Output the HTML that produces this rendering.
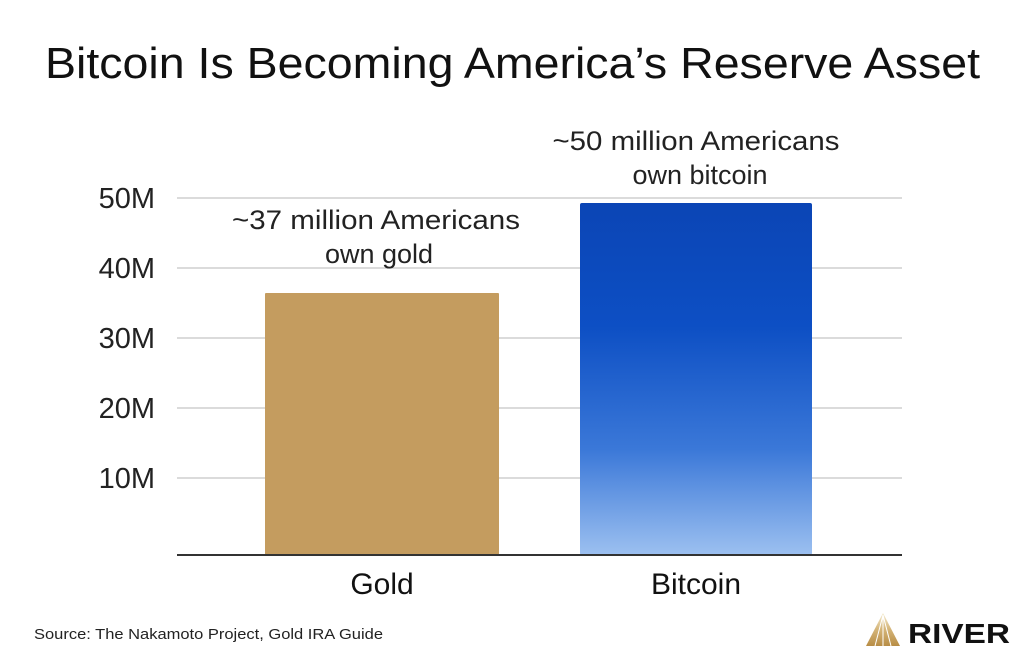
<!DOCTYPE html>
<html><head><meta charset="utf-8"><style>
body{margin:0;background:#fff;}
svg{display:block;font-family:"Liberation Sans",sans-serif;}
</style></head><body>
<svg width="1024" height="657" viewBox="0 0 1024 657">
<defs>
<linearGradient id="b" x1="0" y1="0" x2="0" y2="1">
<stop offset="0" stop-color="#0b45b5"/>
<stop offset="0.35" stop-color="#0d4fc4"/>
<stop offset="0.7" stop-color="#3b78d8"/>
<stop offset="1" stop-color="#9cc0f0"/>
</linearGradient>
<linearGradient id="g" x1="0" y1="0" x2="0" y2="1">
<stop offset="0" stop-color="#f5ecd0"/><stop offset="0.5" stop-color="#d4b478"/><stop offset="1" stop-color="#b88d45"/>
</linearGradient>
</defs>
<text x="45" y="78" font-size="44" fill="#111" textLength="935" lengthAdjust="spacingAndGlyphs">Bitcoin Is Becoming America’s Reserve Asset</text>
<g stroke="#cfcfcf" stroke-width="1.5">
<line x1="177" y1="198" x2="902" y2="198"/>
<line x1="177" y1="268" x2="902" y2="268"/>
<line x1="177" y1="338" x2="902" y2="338"/>
<line x1="177" y1="408" x2="902" y2="408"/>
<line x1="177" y1="478" x2="902" y2="478"/>
</g>
<g font-size="29" fill="#222" text-anchor="end">
<text x="155" y="208">50M</text>
<text x="155" y="278">40M</text>
<text x="155" y="348">30M</text>
<text x="155" y="418">20M</text>
<text x="155" y="488">10M</text>
</g>
<rect x="265" y="293" width="234" height="262" fill="#c49c5f" rx="1"/>
<rect x="580" y="203" width="232" height="352" fill="url(#b)" rx="2"/>
<line x1="177" y1="555" x2="902" y2="555" stroke="#333" stroke-width="2"/>
<g font-size="27" fill="#222" text-anchor="middle">
<text x="376" y="229" textLength="288" lengthAdjust="spacingAndGlyphs">~37 million Americans</text>
<text x="379" y="263">own gold</text>
<text x="696" y="150" textLength="287" lengthAdjust="spacingAndGlyphs">~50 million Americans</text>
<text x="700" y="184">own bitcoin</text>
</g>
<g font-size="30" fill="#111" text-anchor="middle">
<text x="382" y="594">Gold</text>
<text x="696" y="594">Bitcoin</text>
</g>
<text x="34" y="639" font-size="15" fill="#222" textLength="349" lengthAdjust="spacingAndGlyphs">Source: The Nakamoto Project, Gold IRA Guide</text>
<g>
<polygon points="883,613 866,646 900,646" fill="url(#g)"/>
<g stroke="#fff" stroke-width="1"><line x1="883" y1="615" x2="875" y2="646"/><line x1="883" y1="615" x2="883" y2="646"/><line x1="883" y1="615" x2="891" y2="646"/></g>
<text x="908" y="643" font-size="28" font-weight="bold" fill="#111" textLength="102" lengthAdjust="spacingAndGlyphs">RIVER</text>
</g>
</svg>
</body></html>
